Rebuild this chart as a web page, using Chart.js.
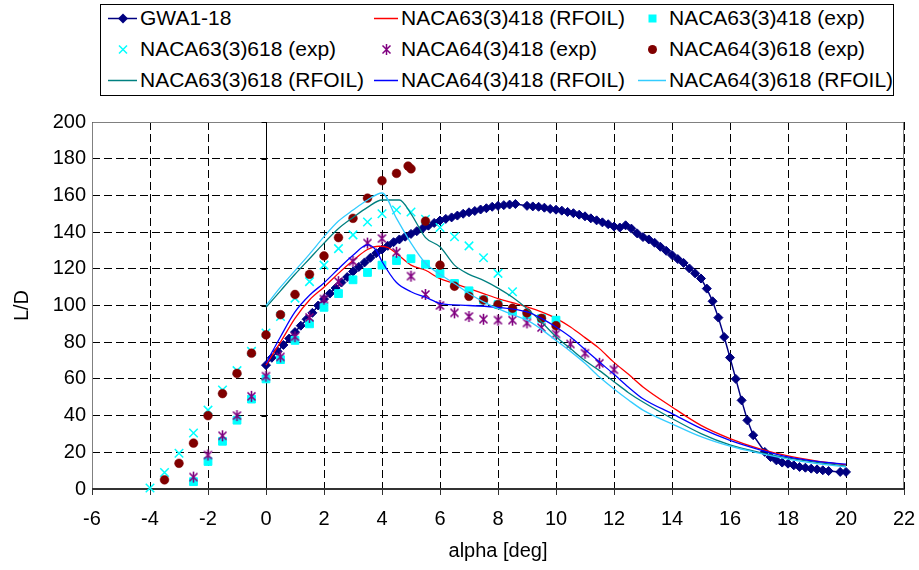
<!DOCTYPE html>
<html>
<head>
<meta charset="utf-8">
<script src="https://cdn.jsdelivr.net/npm/chart.js@4.4.1/dist/chart.umd.min.js"></script>
<style>
  body { margin: 0; background: #fff; font-family: "Liberation Sans", Arial, sans-serif; }
  #wrap { position: relative; width: 919px; height: 570px; }
  #chart { position: absolute; left: 0; top: 0; }
  #legendBox { position: absolute; left: 100px; top: 4px; width: 792px; height: 90px; border: 1px solid #000; background: #fff; }
  .item { position: absolute; height: 24px; font-size: 21px; line-height: 24px; white-space: nowrap; color: #000; }
  .item svg { position: absolute; left: 0; top: 0; }
</style>
</head>
<body>
<div id="wrap">
  <canvas id="chart" width="919" height="570"></canvas>
  <div id="legendBox"></div>
</div>
<script>
// GWA1-18 (measured, 0.2 deg steps)
const gwaAlpha = [0, 0.2, 0.4, 0.6, 0.8, 1, 1.2, 1.4, 1.6, 1.8, 2, 2.2, 2.4, 2.6, 2.8, 3, 3.2, 3.4, 3.6, 3.8,
  4, 4.2, 4.4, 4.6, 4.8, 5, 5.2, 5.4, 5.6, 5.8, 6, 6.2, 6.4, 6.6, 6.8, 7, 7.2, 7.4, 7.6, 7.8, 8, 8.2, 8.4, 8.6,
  9, 9.2, 9.4, 9.6, 9.8, 10, 10.2, 10.4, 10.6, 10.8, 11, 11.2, 11.4, 11.6, 11.8, 12, 12.2, 12.4, 12.6, 12.8,
  13, 13.2, 13.4, 13.6, 13.8, 14, 14.2, 14.4, 14.6, 14.8, 15, 15.2, 15.4, 15.6, 15.8, 16, 16.2, 16.4, 16.6, 16.8,
  17.2, 17.4, 17.6, 17.8, 18, 18.2, 18.4, 18.6, 18.8, 19, 19.2, 19.4, 19.8, 20];
const gwaLD = [67.5, 71.5, 75, 78.5, 82, 85.5, 89, 92.5, 96, 100, 103.5, 106.5, 109.5, 112.5, 115.5, 118.5, 121, 123.5, 126, 128.5,
  130.5, 132.5, 134.5, 136, 137.5, 139, 140.5, 142, 143.5, 145, 146.3, 147.2, 148, 149, 150, 150.8, 151.5, 152.3, 153, 153.8, 154.3, 154.7, 155, 155.3,
  154.3, 154, 153.8, 153.3, 152.6, 152.2, 151.7, 151, 150.3, 149.5, 148.6, 147.5, 146.4, 145.3, 144.3, 143, 142.5, 143.7, 141.9, 139.3,
  137.3, 136, 134.2, 132, 129.8, 127.5, 125.3, 123.2, 120.2, 117.5, 114.7, 109.2, 102.3, 93.4, 82.8, 71.6, 60, 48.3, 37.4, 29.3,
  20.2, 17.4, 15.6, 14.4, 13.8, 12.9, 12, 11.6, 11.1, 10.7, 10.2, 9.8, 9.3, 9.3];

// RFOIL calculations
const n63418rfAlpha = [0, 0.5, 1, 1.5, 2, 2.5, 3, 3.5, 3.9, 4.2, 4.5, 5, 5.5, 6, 6.5, 7, 7.5, 8, 8.5, 9, 9.5, 10, 10.5, 11, 11.5, 12, 12.5, 13, 14, 15, 16, 17, 18, 19, 20];
const n63418rfLD = [67.5, 80, 93, 103, 110, 117.5, 124.5, 130.5, 132.3, 131.6, 128.3, 122, 119.2, 114.6, 112, 109.2, 106.5, 103.8, 101.5, 99.2, 96.5, 93, 88.3, 82.5, 76.5, 69, 62.5, 55.6, 44.7, 34.7, 27.5, 22, 18, 15.2, 13.2];

const n63618rfAlpha = [0, 0.5, 1, 1.5, 2, 2.5, 3, 3.5, 4, 4.6, 5, 5.5, 6, 6.5, 7, 7.5, 8, 8.5, 9, 9.5, 10, 10.5, 11, 11.5, 12, 12.5, 13, 14, 15, 16, 17, 18, 19, 20];
const n63618rfLD = [99, 108, 117, 125.5, 134, 142, 148, 153.5, 157.5, 157.5, 150, 137, 132, 122, 117, 113.7, 109.5, 104.5, 98.3, 91, 83, 76.5, 70, 64.5, 58.5, 52.5, 47.4, 38.4, 30.2, 24, 20, 17, 14.5, 12.5];

const n64418rfAlpha = [0, 0.5, 1, 1.5, 2, 2.5, 3, 3.5, 3.8, 4, 4.5, 5, 5.5, 6, 7, 8, 9, 9.5, 10, 10.5, 11, 11.5, 12, 12.5, 13, 14, 15, 16, 17, 18, 19, 20];
const n64418rfLD = [68.5, 83, 96.5, 105.6, 112.3, 120, 127.4, 133, 130, 124, 112.5, 107.5, 104.5, 101.2, 100, 99, 96.5, 93, 88.3, 82.8, 76, 69.2, 62.5, 55.5, 49.2, 41.1, 33, 26.5, 21.5, 17.5, 15, 13.5];

const n64618rfAlpha = [0, 0.5, 1, 1.5, 2, 2.5, 3, 3.5, 4, 4.5, 5, 5.5, 6, 6.5, 7, 7.5, 8, 8.5, 9, 9.5, 10, 10.5, 11, 11.5, 12, 12.5, 13, 14, 15, 16, 17, 18, 19, 20];
const n64618rfLD = [100, 110, 119, 128, 137.5, 146, 152, 157.5, 161.3, 147.5, 134, 123, 117, 112, 106.5, 102, 98.3, 95, 92, 87, 81, 75, 68.5, 61, 54.5, 48.5, 43, 35.5, 28.5, 23.3, 19.5, 16.3, 13.8, 12];

// wind tunnel measurements
const n63418expAlpha = [-2.5, -2, -1.5, -1, -0.5, 0, 0.5, 1, 1.5, 2, 2.5, 3, 3.5, 4, 4.5, 5, 5.5, 6, 6.5, 7, 7.5, 8, 8.5, 9, 9.5, 10];
const n63418expLD = [4, 15, 26, 37.5, 49, 60, 70.5, 81, 90, 99, 106.5, 114, 118, 122, 124.5, 125.5, 122.5, 117.5, 112, 108, 103, 100.5, 97, 95, 93, 92];

const n63618expAlpha = [-4, -3.5, -3, -2.5, -2, -1.5, -1, -0.5, 0, 0.5, 1, 1.5, 2, 2.5, 3, 3.5, 4, 4.5, 5, 5.5, 6, 6.5, 7, 7.5, 8, 8.5];
const n63618expLD = [0.5, 9, 19.5, 30.5, 43, 54, 64.5, 75, 85, 94, 104, 113, 122, 131, 138.5, 145.5, 150, 152, 151, 147, 142.5, 137.5, 132.5, 126, 117.5, 107.5];

const n64418expAlpha = [-2.5, -2, -1.5, -1, -0.5, 0, 0.5, 1, 1.5, 2, 2.5, 3, 3.5, 4, 4.5, 5, 5.5, 6, 6.5, 7, 7.5, 8, 8.5, 9, 9.5, 10, 10.5, 11, 11.5, 12];
const n64418expLD = [6.5, 18.5, 29, 40, 50.5, 61.5, 72, 83, 93.5, 103.5, 113, 124, 134, 136.5, 129, 116, 106, 100, 96, 94, 92.5, 92, 92, 90.5, 88, 84.5, 79, 74, 68.5, 65];

const n64618expAlpha = [-3.5, -3, -2.5, -2, -1.5, -1, -0.5, 0, 0.5, 1, 1.5, 2, 2.5, 3, 3.5, 4, 4.5, 4.9, 5, 5.5, 6, 6.5, 7, 7.5, 8, 8.5, 9, 9.5, 10];
const n64618expLD = [5, 14, 25, 40, 52, 63, 74, 84, 95, 106, 117, 127, 137, 147.5, 158.5, 168, 172, 176, 174.5, 146, 122, 110.5, 105, 103, 100.5, 98.5, 96, 93, 89];

const seriesNames = ['GWA1-18', 'NACA63(3)418 (RFOIL)', 'NACA63(3)418 (exp)',
  'NACA63(3)618 (exp)', 'NACA64(3)418 (exp)', 'NACA64(3)618 (exp)',
  'NACA63(3)618 (RFOIL)', 'NACA64(3)418 (RFOIL)', 'NACA64(3)618 (RFOIL)'];

const pts = (xs, ys) => xs.map((x, i) => ({x: x, y: ys[i]}));

const FONT = '"Liberation Sans", Arial, sans-serif';

// six-armed asterisk marker (x with a vertical bar), as in the spreadsheet
function asteriskImage(color) {
    const c = document.createElement('canvas');
    c.width = 13; c.height = 13;
    const g = c.getContext('2d');
    g.strokeStyle = color;
    g.lineWidth = 1.6;
    g.beginPath();
    g.moveTo(2.5, 2.5); g.lineTo(10.5, 10.5);
    g.moveTo(2.5, 10.5); g.lineTo(10.5, 2.5);
    g.moveTo(6.5, 1); g.lineTo(6.5, 12);
    g.stroke();
    return c;
}

function lineSet(name, xs, ys, color) {
    return {
        label: name, data: pts(xs, ys), showLine: true,
        borderColor: color, backgroundColor: color, borderWidth: 1.3,
        pointRadius: 0, cubicInterpolationMode: 'monotone', clip: 8
    };
}
function markSet(name, xs, ys, color, style, r, bw) {
    return {
        label: name, data: pts(xs, ys), showLine: false,
        borderColor: color, backgroundColor: color, pointStyle: style,
        pointRadius: r, pointBorderWidth: bw, borderWidth: bw, clip: 8
    };
}

const datasets = [
    {
        label: seriesNames[0], data: pts(gwaAlpha, gwaLD), showLine: true,
        borderColor: '#000080', backgroundColor: '#000080', borderWidth: 1.5,
        pointStyle: 'rectRot', pointRadius: 4.5, pointBorderWidth: 1, clip: 8
    },
    lineSet(seriesNames[1], n63418rfAlpha, n63418rfLD, '#FF0000'),
    markSet(seriesNames[2], n63418expAlpha, n63418expLD, '#00FFFF', 'rect', 5.5, 1),
    markSet(seriesNames[3], n63618expAlpha, n63618expLD, '#00FFFF', 'crossRot', 6, 1.5),
    markSet(seriesNames[4], n64418expAlpha, n64418expLD, '#800080', asteriskImage('#800080'), 5.5, 1.5),
    markSet(seriesNames[5], n64618expAlpha, n64618expLD, '#800000', 'circle', 4.4, 0.5),
    lineSet(seriesNames[6], n63618rfAlpha, n63618rfLD, '#008080'),
    lineSet(seriesNames[7], n64418rfAlpha, n64418rfLD, '#0000FF'),
    lineSet(seriesNames[8], n64618rfAlpha, n64618rfLD, '#33CCFF')
];
// later series on top, like the spreadsheet did
datasets.forEach((d, i) => { d.order = datasets.length - i; });

// solid axes through zero, plot border, tick marks
const axisLines = {
    id: 'axisLines',
    beforeDatasetsDraw(chart) {
        const {ctx, chartArea: a, scales: {x, y}} = chart;
        ctx.save();
        ctx.setLineDash([]);
        ctx.strokeStyle = '#808080';
        ctx.lineWidth = 1;
        ctx.beginPath();
        ctx.moveTo(a.left + 0.5, a.bottom);
        ctx.lineTo(a.left + 0.5, a.top + 0.5);
        ctx.lineTo(a.right - 0.5, a.top + 0.5);
        ctx.lineTo(a.right - 0.5, a.bottom);
        ctx.stroke();

        const x0 = Math.round(x.getPixelForValue(0)) + 0.5;
        ctx.strokeStyle = '#000';
        ctx.beginPath();
        ctx.moveTo(x0, a.top);
        ctx.lineTo(x0, a.bottom);
        y.ticks.forEach(t => {
            const py = Math.round(y.getPixelForValue(t.value)) + 0.5;
            ctx.moveTo(x0 - 5, py);
            ctx.lineTo(x0, py);
        });
        ctx.stroke();

        const y0 = Math.round(y.getPixelForValue(0));
        ctx.strokeStyle = '#333';
        ctx.lineWidth = 2;
        ctx.beginPath();
        ctx.moveTo(a.left, y0);
        ctx.lineTo(a.right, y0);
        ctx.stroke();
        ctx.lineWidth = 1;
        ctx.beginPath();
        x.ticks.forEach(t => {
            const px = Math.round(x.getPixelForValue(t.value)) + 0.5;
            ctx.moveTo(px, y0);
            ctx.lineTo(px, y0 + 6);
        });
        ctx.stroke();
        ctx.restore();
    }
};

new Chart(document.getElementById('chart'), {
    type: 'scatter',
    data: {datasets: datasets},
    options: {
        responsive: false,
        animation: false,
        devicePixelRatio: 1,
        layout: {padding: {top: 122, right: 15, left: 0, bottom: 0}},
        plugins: {legend: {display: false}, tooltip: {enabled: false}},
        scales: {
            x: {
                type: 'linear', min: -6, max: 22,
                ticks: {stepSize: 2, color: '#000', font: {family: FONT, size: 20}, padding: 18},
                grid: {color: '#000', lineWidth: 1, drawTicks: false},
                border: {display: false, dash: [8, 4]},
                title: {display: true, text: 'alpha [deg]', color: '#000', font: {family: FONT, size: 20}, padding: {top: 0, bottom: 7}},
                afterFit(s) {
                    s.height = 81;
                    // tick padding would otherwise widen the right margin
                    s.paddingLeft = 10;
                    s.paddingRight = 10;
                }
            },
            y: {
                type: 'linear', min: 0, max: 200,
                ticks: {stepSize: 20, color: '#000', font: {family: FONT, size: 20}, padding: 6},
                grid: {color: '#000', lineWidth: 1, drawTicks: false},
                border: {display: false, dash: [8, 4]},
                title: {display: true, text: 'L/D', color: '#000', font: {family: FONT, size: 20}, padding: {top: 10, bottom: 0}},
                afterFit(s) { s.width = 92; }
            }
        }
    },
    plugins: [axisLines]
});

// legend: 3 columns x 3 rows, built from the dataset styles
const colSample = [106, 372, 636];
const colText = [140, 401, 669];
const rowMid = [18, 49, 80];

function markerSvg(d, i) {
    const c = d.borderColor;
    if (i === 4) return `<path d="M-4,-4L4,4M-4,4L4,-4M0,-5.5L0,5.5" stroke="${c}" stroke-width="1.5"/>`;
    if (d.pointStyle === 'rectRot') return `<polygon points="0,-5 5,0 0,5 -5,0" fill="${c}"/>`;
    if (d.pointStyle === 'rect') return `<rect x="-4" y="-4" width="8" height="8" fill="${c}"/>`;
    if (d.pointStyle === 'crossRot') return `<path d="M-4,-4L4,4M-4,4L4,-4" stroke="${c}" stroke-width="1.5"/>`;
    if (d.pointStyle === 'circle') return `<circle r="4.5" fill="${c}"/>`;
    return '';
}

const wrap = document.getElementById('wrap');
datasets.forEach((d, i) => {
    const col = i % 3, row = Math.floor(i / 3);
    const w = colText[col] - colSample[col];
    const div = document.createElement('div');
    div.className = 'item';
    div.style.left = colSample[col] + 'px';
    div.style.top = (rowMid[row] - 12) + 'px';
    let svg = `<svg width="${w}" height="24">`;
    if (d.showLine) svg += `<line x1="2" y1="12.5" x2="${w - 3}" y2="12.5" stroke="${d.borderColor}" stroke-width="1.5"/>`;
    svg += `<g transform="translate(${w / 2},12.5)">${markerSvg(d, i)}</g></svg>`;
    div.innerHTML = svg + `<span style="margin-left:${w}px">${d.label}</span>`;
    wrap.appendChild(div);
});
</script>
</body>
</html>
